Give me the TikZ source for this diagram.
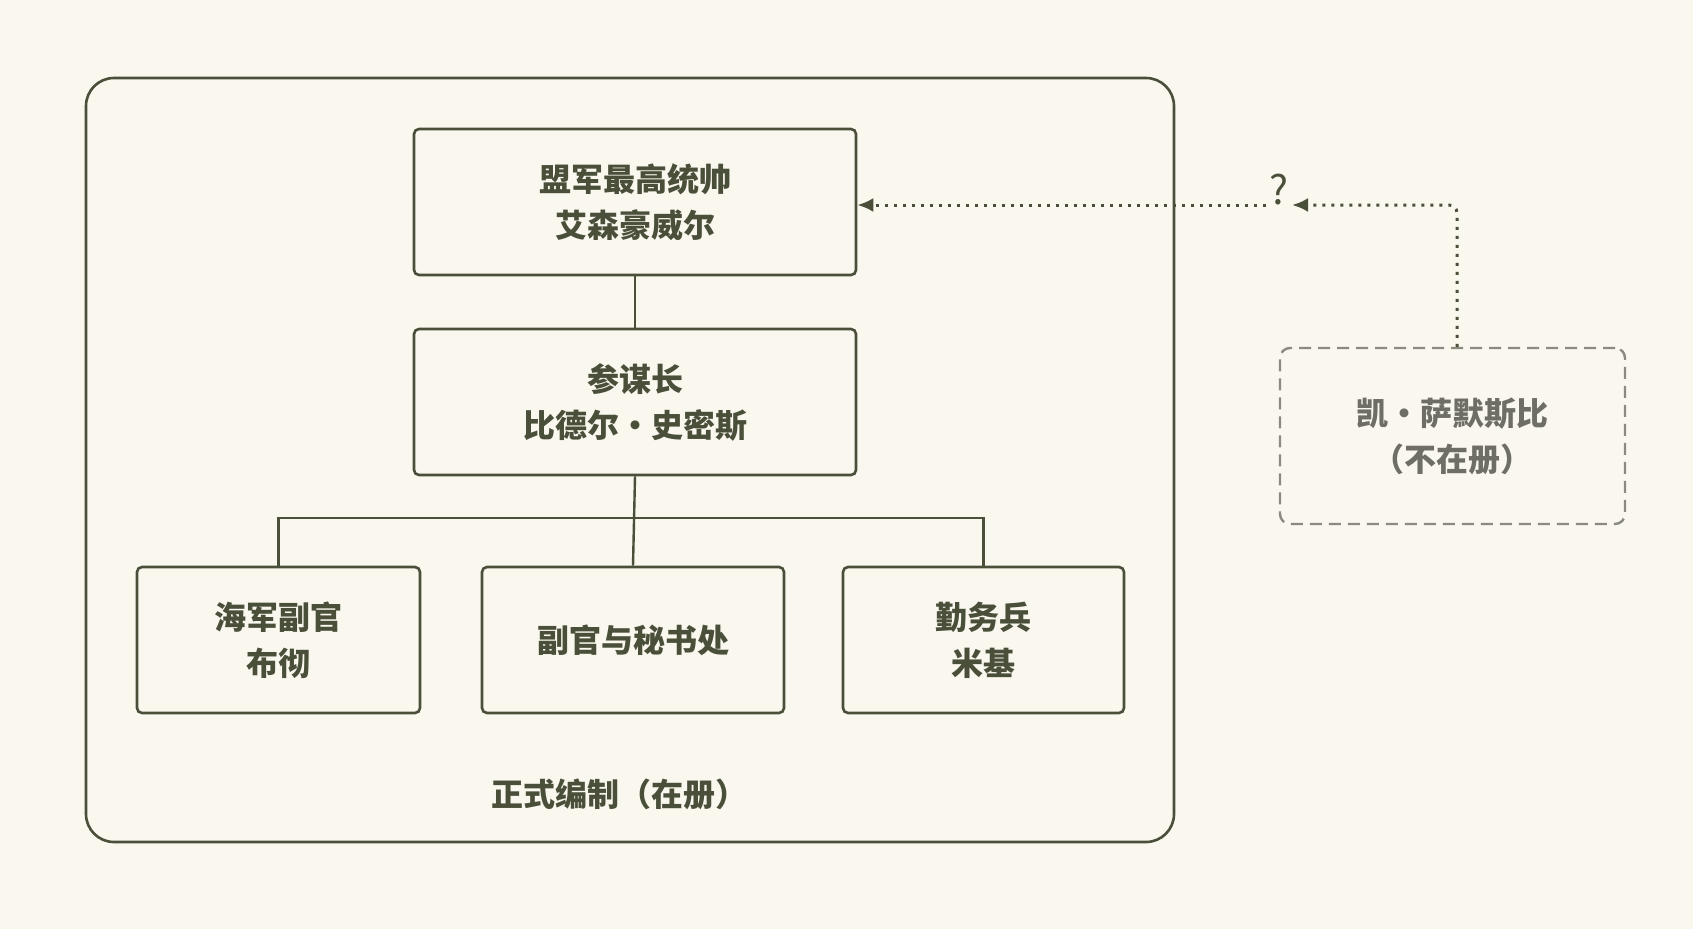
\documentclass[tikz,border=0pt]{standalone}
\usepackage{fontspec}
\setmainfont{Noto Sans CJK SC}
\usetikzlibrary{arrows.meta}
\definecolor{bg}{HTML}{FAF7EE}
\definecolor{ink}{HTML}{4A4F3A}
\definecolor{gry}{HTML}{8A8A80}
\begin{document}
\begin{tikzpicture}[x=1pt,y=-1pt,
  box/.style={draw=ink,line width=2.6pt,rounded corners=5pt,fill=bg},
  txt/.style={text=ink,font=\fontsize{32}{46}\selectfont\bfseries,align=center},
  ln/.style={draw=ink,line width=2.4pt}]
\fill[bg] (0,0) rectangle (1693,929);
\useasboundingbox (0,0) rectangle (1693,929);
\draw[box,rounded corners=28pt] (86,78) rectangle (1174,842);
\node[box,minimum width=442pt,minimum height=146pt] (top) at (635,202) {};
\node[txt] at (top) {盟军最高统帅\\艾森豪威尔};
\node[box,minimum width=442pt,minimum height=146pt] (mid) at (635,402) {};
\node[txt] at (mid) {参谋长\\比德尔·史密斯};
\node[box,minimum width=283pt,minimum height=146pt] (b1) at (278.5,640) {};
\node[txt] at (b1) {海军副官\\布彻};
\node[box,minimum width=302pt,minimum height=146pt] (b2) at (633,640) {};
\node[txt] at (b2) {副官与秘书处};
\node[box,minimum width=281pt,minimum height=146pt] (b3) at (983.5,640) {};
\node[txt] at (b3) {勤务兵\\米基};
\node[txt] (lab) at (619,794) {正式编制（在册）};
\node[draw=gry,dash pattern=on 12pt off 7pt,line width=2.4pt,rounded corners=10pt,minimum width=345pt,minimum height=176pt] (ks) at (1452.5,436) {};
\node[text=gry!80!black,font=\fontsize{32}{46}\selectfont\bfseries,align=center] at (ks) {凯·萨默斯比\\（不在册）};
\draw[ln] (top.south) -- (mid.north);
\coordinate (bus) at (635,518);
\draw[ln] (mid.south) -- (b2.north);
\draw[ln] (b1.north) |- (bus) -| (b3.north);
\node[text=ink,font=\fontsize{40}{40}\selectfont] (q) at (1279,190) {?};
\draw[ink,line width=3pt,dotted,-{Latex[length=16pt,width=14pt]},dash pattern=on 3pt off 6pt,rounded corners=8pt]
  (ks.north -| 1457,0) -- (1457,205) -- (q.east |- 0,205);
\draw[ink,line width=3pt,dash pattern=on 3pt off 6pt,-{Latex[length=16pt,width=14pt]}]
  (q.west |- 0,205) -- (top.east |- 0,205);
\end{tikzpicture}
\end{document}
